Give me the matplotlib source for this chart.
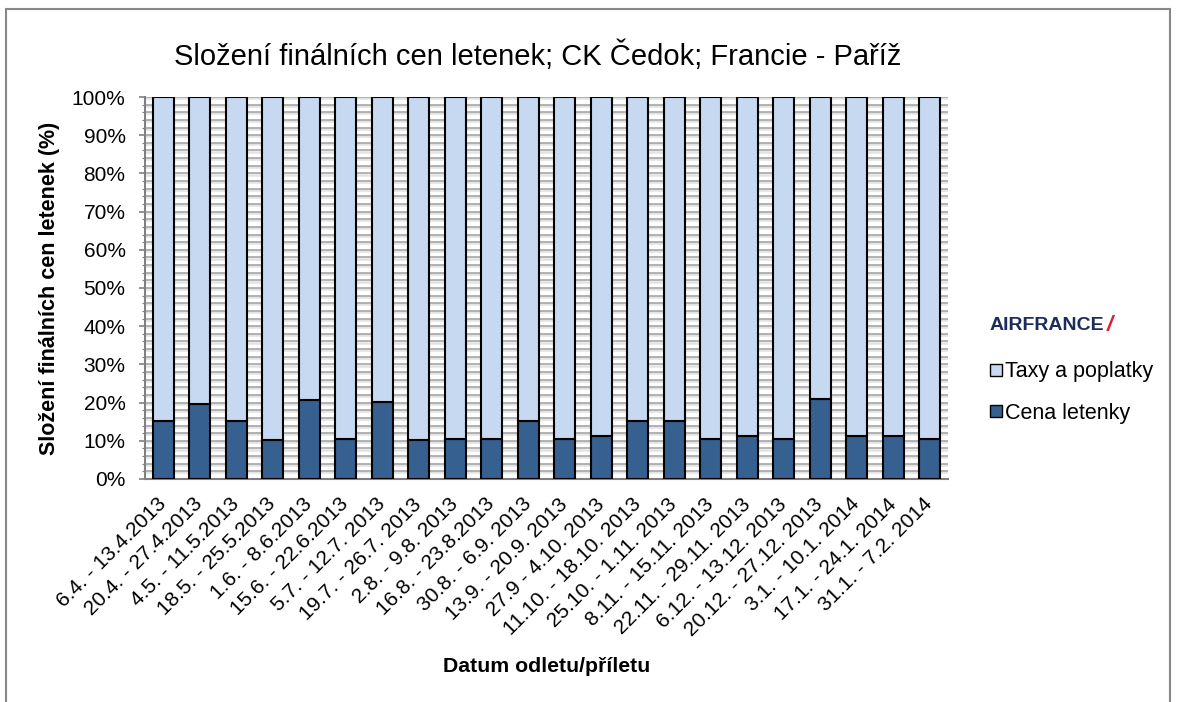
import matplotlib
matplotlib.use("Agg")
import matplotlib.pyplot as plt
from matplotlib.patches import Rectangle
from matplotlib.lines import Line2D
import numpy as np

plt.rcParams['font.family'] = ['Liberation Sans', 'DejaVu Sans']

categories = ["6.4. - 13.4.2013", "20.4. - 27.4.2013", "4.5. - 11.5.2013", "18.5. - 25.5.2013",
              "1.6. - 8.6.2013", "15.6. - 22.6.2013", "5.7. - 12.7. 2013", "19.7. - 26.7. 2013",
              "2.8. - 9.8. 2013", "16.8. - 23.8.2013", "30.8. - 6.9. 2013", "13.9. - 20.9. 2013",
              "27.9 - 4.10. 2013", "11.10. - 18.10. 2013", "25.10. - 1.11. 2013", "8.11. - 15.11. 2013",
              "22.11. - 29.11. 2013", "6.12. - 13.12. 2013", "20.12. - 27.12. 2013", "3.1. - 10.1. 2014",
              "17.1. - 24.1. 2014", "31.1. - 7.2. 2014"]
cena = [15.3, 19.7, 15.3, 10.1, 20.8, 10.5, 20.1, 10.1, 10.5, 10.5, 15.3,
        10.5, 11.3, 15.3, 15.3, 10.5, 11.3, 10.5, 21.0, 11.3, 11.3, 10.5]
taxy = [100 - v for v in cena]
series_names = ["Cena letenky", "Taxy a poplatky"]
yticks = [0, 10, 20, 30, 40, 50, 60, 70, 80, 90, 100]

dark = '#35608f'
light = '#c6d9f1'

fig = plt.figure(figsize=(11.77, 7.02), dpi=100)
ax = fig.add_axes([0.1232, 0.3177, 0.6822, 0.5441])

x = np.arange(len(categories))
ax.set_xlim(-0.5, len(categories) - 0.5)
ax.set_ylim(0, 100)

# gridlines (Excel-like shaded)
for yv in np.arange(2, 100.1, 2):
    ax.axhline(yv - 0.3, color='#e3e3e3', lw=1.8, zorder=0.5)
    ax.axhline(yv, color='#a6a6a6', lw=1.2, zorder=0.6)

ax.bar(x, cena, width=0.57, color=dark, edgecolor='black', linewidth=1.5, zorder=3)
ax.bar(x, taxy, width=0.57, bottom=cena, color=light, edgecolor='black', linewidth=1.5, zorder=3)

ax.set_yticks(yticks)
ax.set_yticklabels([f"{v}%" for v in yticks], fontsize=15)
ax.set_yticks(np.arange(0, 101, 2), minor=True)
ax.tick_params(axis='y', which='major', length=4, color='#808080', width=1.2, pad=10)
ax.tick_params(axis='y', which='minor', length=2.5, color='#808080', width=0.8)
ax.set_xticks(x)
ax.set_xticklabels(categories, rotation=45, ha='right', va='center', rotation_mode='anchor', fontsize=15)
ax.tick_params(axis='x', length=0, pad=16)

for s in ['top', 'right']:
    ax.spines[s].set_visible(False)
ax.spines['left'].set_color('#808080')
ax.spines['bottom'].set_color('#808080')
ax.spines['left'].set_linewidth(1.5)
ax.spines['bottom'].set_linewidth(1.5)

fig.text(50 / 1177, (702 - 288) / 702, "Složení finálních cen letenek (%)", fontsize=15.5, fontweight='bold',
         rotation=90, ha='center', va='center')
fig.text(0.4643, 0.050, "Datum odletu/příletu", fontsize=15.3, fontweight='bold', ha='center', va='center')
fig.text(0.457, 0.921, "Složení finálních cen letenek; CK Čedok; Francie - Paříž", fontsize=21,
         ha='center', va='center')

# logo-like text
fig.text(0.8411, 0.537, "AIRFRANCE", fontsize=14, fontweight='bold', color='#1b2d5c', ha='left', va='center')
fig.text(0.9405, 0.537, "/", fontsize=16, fontweight='bold', fontstyle='italic', color='#e0202a', ha='left', va='center')

handles = [Line2D([], [], marker='s', linestyle='none', markersize=8, markerfacecolor=light, markeredgecolor='black'),
           Line2D([], [], marker='s', linestyle='none', markersize=8, markerfacecolor=dark, markeredgecolor='black')]
fig.legend(handles, [series_names[1], series_names[0]], loc='center left', bbox_to_anchor=(0.832, 0.441),
           frameon=False, fontsize=15.5, handlelength=0.55, handletextpad=0.15, labelspacing=0.95, borderpad=0)

fig.patches.append(Rectangle((6 / 1177, -0.01), 1164 / 1177, 1 - 9 / 702 + 0.01, transform=fig.transFigure,
                             fill=False, edgecolor='#888888', linewidth=1.5))

fig.savefig("out.png", dpi=100)
